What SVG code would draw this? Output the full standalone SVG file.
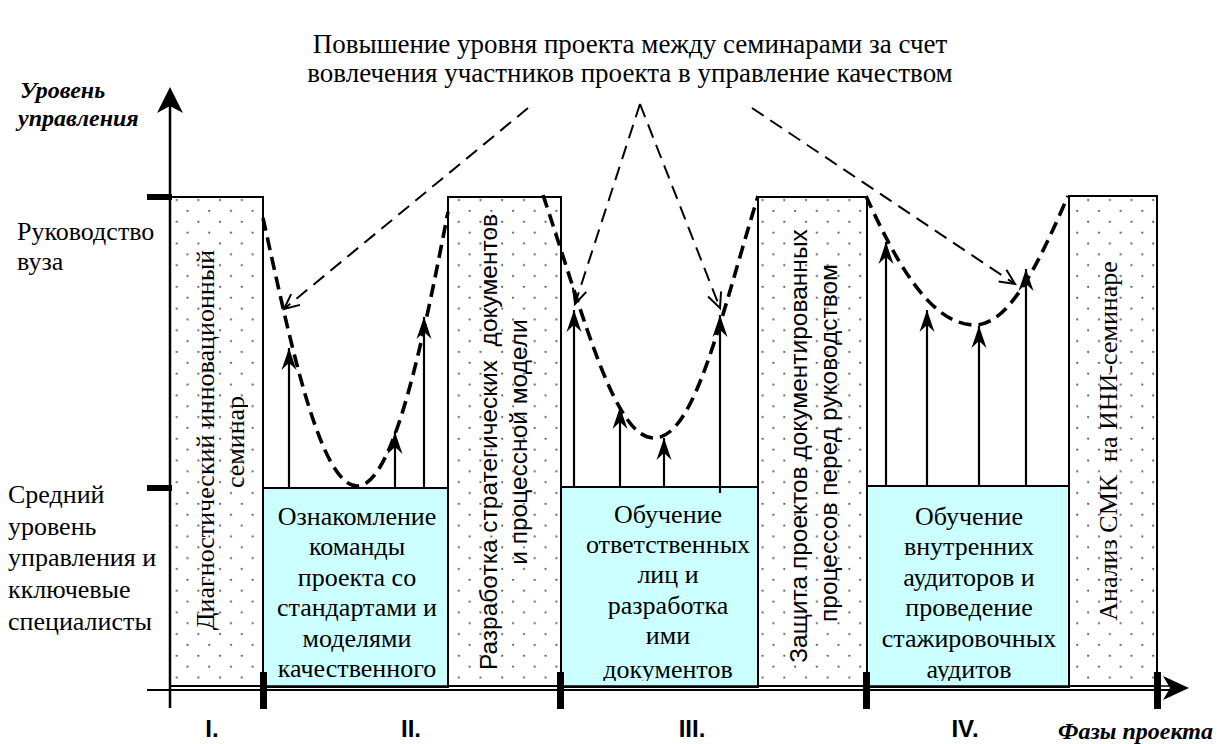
<svg xmlns="http://www.w3.org/2000/svg" width="1219" height="744" viewBox="0 0 1219 744">
<style>
.dotbox{fill:url(#dots);stroke:#000;stroke-width:2}
.cyan{fill:#ccffff;stroke:#000;stroke-width:2}
.up{stroke:#000;stroke-width:2.2;fill:none;marker-end:url(#arrUp)}
.thick{stroke:#000;stroke-width:3.6;fill:none;stroke-dasharray:13 7}
.thin{stroke:#000;stroke-width:2;fill:none;stroke-dasharray:14 8;marker-end:url(#arrOpen)}
</style>
<defs>
<pattern id="dots" patternUnits="userSpaceOnUse" width="21.7" height="21.7" x="0" y="0">
<rect width="21.7" height="21.7" fill="#fff"/>
<circle cx="3.1" cy="4.7" r="1.1" fill="#555"/>
<circle cx="13.95" cy="15.55" r="1.1" fill="#555"/>
</pattern>
<marker id="arrUp" markerUnits="userSpaceOnUse" markerWidth="26" markerHeight="20" refX="22" refY="8" orient="auto" overflow="visible">
<path d="M22,8 L0,0.5 L7,8 L0,15.5 Z" fill="#000" stroke="none"/>
</marker>
<marker id="arrOpen" markerUnits="userSpaceOnUse" markerWidth="20" markerHeight="20" refX="15" refY="7" orient="auto" overflow="visible">
<path d="M0,0 L15,7 L0,14" fill="none" stroke="#000" stroke-width="2" stroke-dasharray="none"/>
</marker>
<clipPath id="cyanClip"><rect x="0" y="0" width="1219" height="681"/></clipPath>
<clipPath id="semClip"><rect x="0" y="0" width="248" height="744"/></clipPath>
</defs>

<g id="title">
<text font-family="Liberation Serif" font-size="27" x="630" y="53" text-anchor="middle">Повышение уровня проекта между семинарами за счет</text>
<text font-family="Liberation Serif" font-size="27" x="630" y="82" text-anchor="middle">вовлечения участников проекта в управление качеством</text>
</g>

<g id="axis-labels">
<text font-family="Liberation Serif" font-size="24" font-weight="bold" font-style="italic" x="20" y="98">Уровень</text>
<text font-family="Liberation Serif" font-size="24" font-weight="bold" font-style="italic" x="18" y="126">управления</text>
<text font-family="Liberation Serif" font-size="26" x="17" y="240">Руководство</text>
<text font-family="Liberation Serif" font-size="26" x="17" y="270">вуза</text>
<text font-family="Liberation Serif" font-size="26" x="8" y="503">Средний</text>
<text font-family="Liberation Serif" font-size="26" x="8" y="535">уровень</text>
<text font-family="Liberation Serif" font-size="26" x="8" y="566">управления и</text>
<text font-family="Liberation Serif" font-size="26" x="8" y="598">кключевые</text>
<text font-family="Liberation Serif" font-size="26" x="8" y="630">специалисты</text>
<text font-family="Liberation Serif" font-size="24" font-weight="bold" font-style="italic" x="1058" y="739">Фазы проекта</text>
</g>
<g id="phase-labels">
<text font-family="Liberation Sans" font-size="24" font-weight="bold" x="212" y="737" text-anchor="middle">I.</text>
<text font-family="Liberation Sans" font-size="24" font-weight="bold" x="411" y="737" text-anchor="middle">II.</text>
<text font-family="Liberation Sans" font-size="24" font-weight="bold" x="692" y="737" text-anchor="middle">III.</text>
<text font-family="Liberation Sans" font-size="24" font-weight="bold" x="965" y="737" text-anchor="middle">IV.</text>
</g>

<g id="box-ii">
<rect class="cyan" x="263" y="488" width="185" height="199"/>
<g clip-path="url(#cyanClip)">
<text font-family="Liberation Serif" font-size="26" x="357" y="525" text-anchor="middle">Ознакомление</text>
<text font-family="Liberation Serif" font-size="26" x="357" y="555" text-anchor="middle">команды</text>
<text font-family="Liberation Serif" font-size="26" x="357" y="586" text-anchor="middle">проекта со</text>
<text font-family="Liberation Serif" font-size="26" x="357" y="616" text-anchor="middle">стандартами и</text>
<text font-family="Liberation Serif" font-size="26" x="357" y="647" text-anchor="middle">моделями</text>
<text font-family="Liberation Serif" font-size="26" x="357" y="677" text-anchor="middle">качественного</text>
</g>
</g>
<g id="box-iii">
<rect class="cyan" x="561" y="487" width="197" height="200"/>
<g clip-path="url(#cyanClip)">
<text font-family="Liberation Serif" font-size="26" x="668" y="523" text-anchor="middle">Обучение</text>
<text font-family="Liberation Serif" font-size="26" x="668" y="553" text-anchor="middle">ответственных</text>
<text font-family="Liberation Serif" font-size="26" x="668" y="583" text-anchor="middle">лиц и</text>
<text font-family="Liberation Serif" font-size="26" x="668" y="614" text-anchor="middle">разработка</text>
<text font-family="Liberation Serif" font-size="26" x="668" y="644" text-anchor="middle">ими</text>
<text font-family="Liberation Serif" font-size="26" x="668" y="678" text-anchor="middle">документов</text>
</g>
</g>
<g id="box-iv">
<rect class="cyan" x="867" y="486" width="202" height="201"/>
<g clip-path="url(#cyanClip)">
<text font-family="Liberation Serif" font-size="26" x="969" y="525" text-anchor="middle">Обучение</text>
<text font-family="Liberation Serif" font-size="26" x="969" y="555" text-anchor="middle">внутренних</text>
<text font-family="Liberation Serif" font-size="26" x="969" y="586" text-anchor="middle">аудиторов и</text>
<text font-family="Liberation Serif" font-size="26" x="969" y="616" text-anchor="middle">проведение</text>
<text font-family="Liberation Serif" font-size="26" x="969" y="647" text-anchor="middle">стажировочных</text>
<text font-family="Liberation Serif" font-size="26" x="969" y="678" text-anchor="middle">аудитов</text>
</g>
</g>

<g id="seminar-1">
<rect class="dotbox" x="170" y="197" width="93" height="489"/>
<text font-family="Liberation Serif" font-size="26" transform="translate(214,440) rotate(-90)" text-anchor="middle">Диагностический инновационный</text>
<g clip-path="url(#semClip)">
<text font-family="Liberation Serif" font-size="26" transform="translate(244,442) rotate(-90)" text-anchor="middle">семинар</text>
</g>
</g>
<g id="seminar-2">
<rect class="dotbox" x="448" y="197" width="113" height="489"/>
<text font-family="Liberation Sans" font-size="24.5" transform="translate(497,442) rotate(-90)" text-anchor="middle" xml:space="preserve">Разработка стратегических  документов</text>
<text font-family="Liberation Sans" font-size="24.5" transform="translate(527,442) rotate(-90)" text-anchor="middle">и процессной модели</text>
</g>
<g id="seminar-3">
<rect class="dotbox" x="758" y="197" width="109" height="489"/>
<text font-family="Liberation Sans" font-size="24.5" transform="translate(807,446) rotate(-90)" text-anchor="middle">Защита проектов документированных</text>
<text font-family="Liberation Sans" font-size="24.5" transform="translate(837,443) rotate(-90)" text-anchor="middle">процессов перед руководством</text>
</g>
<g id="seminar-4">
<rect class="dotbox" x="1069" y="196" width="88" height="490"/>
<text font-family="Liberation Serif" font-size="26" transform="translate(1117,441) rotate(-90)" text-anchor="middle" xml:space="preserve">Анализ СМК  на ИНИ-семинаре</text>
</g>

<g id="axes">
<line x1="170" y1="708" x2="170" y2="100" stroke="#000" stroke-width="2.5"/>
<path d="M170,87 L157,113 L170,106 L183,113 Z" fill="#000"/>
<line x1="147" y1="690" x2="1172" y2="690" stroke="#000" stroke-width="2"/>
<line x1="170" y1="686" x2="1172" y2="686" stroke="#000" stroke-width="1.5"/>
<path d="M1189,688 L1163,676 L1170,688 L1163,700 Z" fill="#000"/>
<rect x="147" y="194" width="25" height="6" fill="#000"/>
<rect x="147" y="485" width="25" height="6" fill="#000"/>
<rect x="260" y="672" width="7" height="37" fill="#000"/>
<rect x="557" y="672" width="7" height="37" fill="#000"/>
<rect x="863" y="672" width="7" height="37" fill="#000"/>
<rect x="1154" y="672" width="7" height="37" fill="#000"/>
</g>

<g id="connectors">
<path class="thick" d="M263,218 C290,340 320,488 358,486 C395,484 425,330 448,212"/>
<path class="thick" d="M543,195 C585,320 615,440 655,438 C695,436 720,320 758,196"/>
<path class="thick" d="M866,196 C895,260 930,325 975,325 C1010,325 1040,260 1068,196"/>
<path class="thin" d="M528,108 L284,309"/>
<path class="thin" d="M640,104 L575,304"/>
<path class="thin" d="M640,104 L720,308"/>
<path class="thin" d="M752,108 L1015,284"/>
<line class="up" x1="289" y1="488" x2="289" y2="348"/>
<line class="up" x1="395" y1="488" x2="395" y2="432"/>
<line class="up" x1="424" y1="488" x2="424" y2="317"/>
<line class="up" x1="574" y1="487" x2="574" y2="310"/>
<line class="up" x1="620" y1="487" x2="620" y2="407"/>
<line class="up" x1="664" y1="487" x2="664" y2="438"/>
<line class="up" x1="720" y1="493" x2="720" y2="315"/>
<line class="up" x1="886" y1="486" x2="886" y2="242"/>
<line class="up" x1="927" y1="486" x2="927" y2="310"/>
<line class="up" x1="979" y1="486" x2="979" y2="326"/>
<line class="up" x1="1026" y1="486" x2="1026" y2="269"/>
</g>
</svg>
